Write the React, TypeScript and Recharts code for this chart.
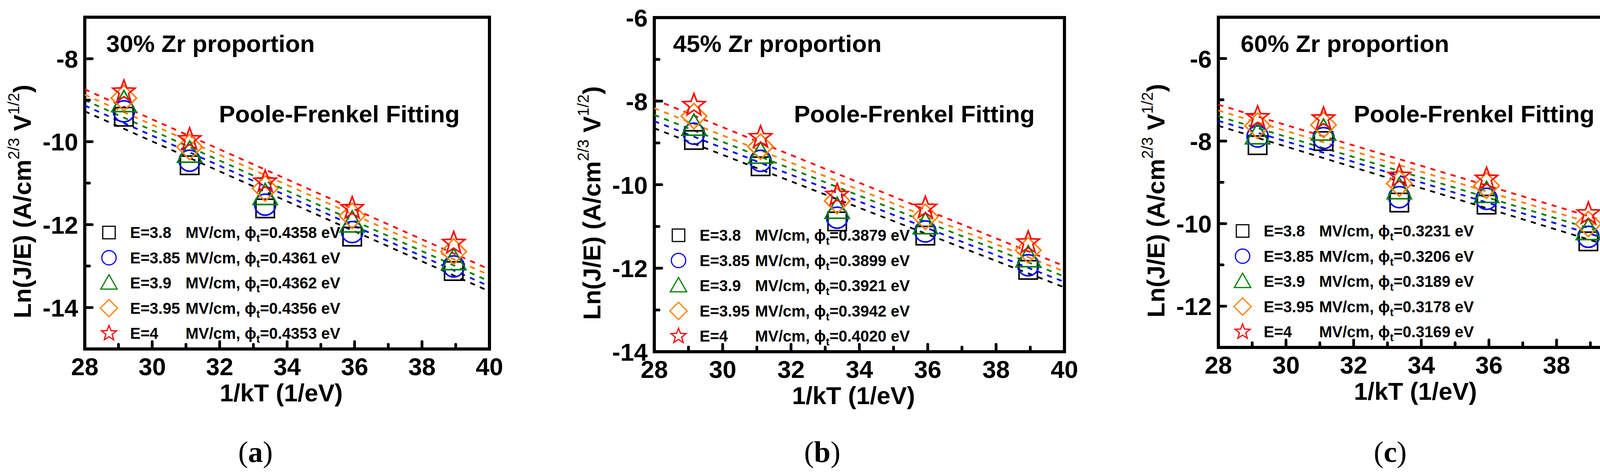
import React from 'react';
import { ScatterChart, Scatter, XAxis, YAxis, ReferenceArea } from 'recharts';

// 1/kT positions of the five measurement temperatures
const xValues = [29.16, 31.11, 33.35, 35.93, 38.94];
const fitX = [28, 40];
const xTicks = [28, 29, 30, 31, 32, 33, 34, 35, 36, 37, 38, 39, 40];

const fieldLabels = ['E=3.8', 'E=3.85', 'E=3.9', 'E=3.95', 'E=4'];
const seriesColors = ['#000000', '#0000ff', '#008000', '#ff8000', '#ff0000'];
const markerKinds = ['square', 'circle', 'triangle', 'diamond', 'star'];

// (a) 30% Zr
const zr30E380 = [-9.4, -10.57, -11.61, -12.29, -13.12];
const zr30E385 = [-9.27, -10.46, -11.52, -12.18, -13.01];
const zr30E390 = [-9.06, -10.28, -11.3, -11.96, -12.87];
const zr30E395 = [-8.95, -10.13, -11.13, -11.79, -12.65];
const zr30E400 = [-8.8, -9.95, -10.97, -11.61, -12.45];
const zr30FitStart = [-9.27, -9.13, -9.0, -8.87, -8.74];
const zr30FitEnd = [-13.61, -13.49, -13.37, -13.22, -13.08];
const zr30Phi = ['0.4358', '0.4361', '0.4362', '0.4356', '0.4353'];
const zr30YTicks = [-15, -14, -13, -12, -11, -10, -9, -8, -7];

// (b) 45% Zr
const zr45E380 = [-8.93, -9.56, -10.88, -11.22, -12.04];
const zr45E385 = [-8.78, -9.43, -10.79, -11.12, -11.93];
const zr45E390 = [-8.6, -9.27, -10.59, -10.96, -11.75];
const zr45E395 = [-8.36, -9.09, -10.39, -10.77, -11.57];
const zr45E400 = [-8.1, -8.87, -10.25, -10.56, -11.39];
const zr45FitStart = [-8.65, -8.48, -8.33, -8.17, -7.96];
const zr45FitEnd = [-12.46, -12.33, -12.2, -12.08, -11.95];
const zr45Phi = ['0.3879', '0.3899', '0.3921', '0.3942', '0.4020'];
const zr45YTicks = [-14, -13, -12, -11, -10, -9, -8, -7, -6];

// (c) 60% Zr
const zr60E380 = [-8.1, -8.0, -9.49, -9.54, -10.43];
const zr60E385 = [-7.89, -7.93, -9.36, -9.4, -10.32];
const zr60E390 = [-7.85, -7.76, -9.18, -9.27, -10.17];
const zr60E395 = [-7.63, -7.61, -9.03, -9.08, -10.01];
const zr60E400 = [-7.43, -7.46, -8.85, -8.92, -9.76];
const zr60FitStart = [-7.63, -7.51, -7.4, -7.26, -7.12];
const zr60FitEnd = [-10.65, -10.5, -10.37, -10.23, -10.08];
const zr60Phi = ['0.3231', '0.3206', '0.3189', '0.3178', '0.3169'];
const zr60YTicks = [-13, -12, -11, -10, -9, -8, -7, -6, -5];

const panels = [
  {
    title: '30% Zr proportion', caption: 'a',
    series: [zr30E380, zr30E385, zr30E390, zr30E395, zr30E400],
    fitStart: zr30FitStart, fitEnd: zr30FitEnd, phi: zr30Phi, yTicks: zr30YTicks,
    left: 0, width: 1400, plotLeft: 217, plotRight: 1253, plotTop: 44, plotBottom: 893,
    titleX: 272, captionX: 654,
  },
  {
    title: '45% Zr proportion', caption: 'b',
    series: [zr45E380, zr45E385, zr45E390, zr45E395, zr45E400],
    fitStart: zr45FitStart, fitEnd: zr45FitEnd, phi: zr45Phi, yTicks: zr45YTicks,
    left: 1400, width: 1400, plotLeft: 1675, plotRight: 2725, plotTop: 45, plotBottom: 900,
    titleX: 1723, captionX: 2105,
  },
  {
    title: '60% Zr proportion', caption: 'c',
    series: [zr60E380, zr60E385, zr60E390, zr60E395, zr60E400],
    fitStart: zr60FitStart, fitEnd: zr60FitEnd, phi: zr60Phi, yTicks: zr60YTicks,
    left: 2800, width: 1404, plotLeft: 3119, plotRight: 4158, plotTop: 44, plotBottom: 889,
    titleX: 3176, captionX: 3559,
  },
];

const W = 4204;
const H = 1218;
const Y_AXIS_W = 130;
const X_AXIS_H = 100;
const SANS = "'Liberation Sans', Arial, sans-serif";
const SERIF = "'Liberation Serif', 'Times New Roman', serif";

function MarkerShape({ kind, cx, cy, k, color }: any) {
  const sw = 4 * Math.max(k, 0.75);
  const common = { fill: 'none', stroke: color, strokeWidth: sw, strokeLinejoin: 'miter' as const };
  if (kind === 'square') {
    const h = 23.5 * k;
    return <rect x={cx - h} y={cy - h} width={2 * h} height={2 * h} {...common} />;
  }
  if (kind === 'circle') {
    return <circle cx={cx} cy={cy} r={27 * k} {...common} />;
  }
  if (kind === 'triangle') {
    const hw = 31 * k;
    return (
      <path d={`M${cx},${cy - 31 * k}L${cx + hw},${cy + 23 * k}L${cx - hw},${cy + 23 * k}Z`} {...common} />
    );
  }
  if (kind === 'diamond') {
    const h = 32.5 * k;
    return <path d={`M${cx},${cy - h}L${cx + h},${cy}L${cx},${cy + h}L${cx - h},${cy}Z`} {...common} />;
  }
  const R = 30 * k;
  const r = 12.5 * k;
  let d = '';
  for (let i = 0; i < 10; i++) {
    const a = -Math.PI / 2 + (i * Math.PI) / 5;
    const rr = i % 2 === 0 ? R : r;
    d += `${i === 0 ? 'M' : 'L'}${cx + rr * Math.cos(a)},${cy + rr * Math.sin(a)}`;
  }
  return <path d={d + 'Z'} {...common} />;
}

function XTick(props: any) {
  const { x, y, payload } = props;
  const v = payload.value;
  const major = v % 2 === 0;
  return (
    <g>
      <line x1={x} y1={y} x2={x} y2={y - (major ? 19 : 12)} stroke="#000" strokeWidth={7} strokeLinecap="round" />
      {major && (
        <text x={x} y={y + 67} textAnchor="middle" fontFamily={SANS} fontWeight="bold" fontSize={63} fill="#000">
          {v}
        </text>
      )}
    </g>
  );
}

function YTick(props: any) {
  const { x, y, payload } = props;
  const v = payload.value;
  const major = v % 2 === 0;
  return (
    <g>
      <line x1={x} y1={y} x2={x + (major ? 19 : 12)} y2={y} stroke="#000" strokeWidth={7} strokeLinecap="round" />
      {major && (
        <text x={x - 17} y={y + 23} textAnchor="end" fontFamily={SANS} fontWeight="bold" fontSize={63} fill="#000">
          {v}
        </text>
      )}
    </g>
  );
}

function Panel({ p }: any) {
  const yMin = p.yTicks[0];
  const yMax = p.yTicks[p.yTicks.length - 1];
  const margin = {
    top: p.plotTop,
    right: p.left + p.width - p.plotRight,
    bottom: H - p.plotBottom - X_AXIS_H,
    left: p.plotLeft - p.left - Y_AXIS_W,
  };
  return (
    <div style={{ position: 'absolute', left: p.left, top: 0 }}>
      <ScatterChart width={p.width} height={H} margin={margin}>
        <XAxis
          type="number" dataKey="x" domain={[28, 40]} ticks={xTicks} interval={0}
          tick={<XTick />} tickSize={0} tickMargin={0} axisLine={false} tickLine={false}
          height={X_AXIS_H} allowDataOverflow
        />
        <YAxis
          type="number" dataKey="y" domain={[yMin, yMax]} ticks={p.yTicks} interval={0}
          tick={<YTick />} tickSize={0} tickMargin={0} axisLine={false} tickLine={false}
          width={Y_AXIS_W} allowDataOverflow
        />
        <ReferenceArea x1={28} x2={40} y1={yMin} y2={yMax} fill="none" fillOpacity={0} stroke="#000" strokeWidth={8} />
        {p.fitStart.map((s: number, i: number) => (
          <Scatter
            key={`fit-${i}`}
            data={[{ x: fitX[0], y: s }, { x: fitX[1], y: p.fitEnd[i] }]}
            fill={seriesColors[i]}
            line={{ stroke: seriesColors[i], strokeWidth: 4.5, strokeDasharray: '13 14' }}
            shape={() => <g />}
            isAnimationActive={false}
          />
        ))}
        {p.series.map((vals: number[], i: number) => (
          <Scatter
            key={`pts-${i}`}
            data={xValues.map((x, j) => ({ x, y: vals[j] }))}
            fill={seriesColors[i]}
            shape={(sp: any) => <MarkerShape kind={markerKinds[i]} cx={sp.cx} cy={sp.cy} k={1} color={seriesColors[i]} />}
            isAnimationActive={false}
          />
        ))}
      </ScatterChart>
    </div>
  );
}

function Annotations({ p }: any) {
  const legendStep = 64.5;
  const legendLast = p.plotBottom - 40;
  const yTitleX = p.plotLeft - 138;
  const yTitleY = (p.plotTop + p.plotBottom) / 2 + 47;
  return (
    <g fontFamily={SANS} fontWeight="bold" fill="#000">
      <text x={p.titleX} y={133} fontSize={62}>{p.title}</text>
      <text x={p.plotRight - 76} y={313} fontSize={62} textAnchor="end">Poole-Frenkel Fitting</text>
      <text transform={`translate(${yTitleX},${yTitleY}) rotate(-90)`} textAnchor="middle" fontSize={63}>
        Ln(J/E) (A/cm
        <tspan dy={-30} fontSize={40} fontWeight="normal">2/3</tspan>
        <tspan dy={30}> V</tspan>
        <tspan dy={-30} fontSize={40} fontWeight="normal">1/2</tspan>
        <tspan dy={30}>)</tspan>
      </text>
      <text x={(p.plotLeft + p.plotRight) / 2 - 15} y={p.plotBottom + 134} fontSize={63} textAnchor="middle">
        1/kT (1/eV)
      </text>
      <text x={p.captionX} y={1182} fontSize={76} textAnchor="middle" fontFamily={SERIF} fontWeight="normal">
        (<tspan fontWeight="bold">{p.caption}</tspan>)
      </text>
      {fieldLabels.map((lab, i) => {
        const cy = legendLast - legendStep * (fieldLabels.length - 1 - i);
        return (
          <g key={lab}>
            <MarkerShape kind={markerKinds[i]} cx={p.plotLeft + 62} cy={cy} k={0.68} color={seriesColors[i]} />
            <text x={p.plotLeft + 116} y={cy + 14} fontSize={40}>{lab}</text>
            <text x={p.plotLeft + 258} y={cy + 14} fontSize={40}>
              MV/cm, {'\u03d5'}
              <tspan dy={10} fontSize={28}>t</tspan>
              <tspan dy={-10}>={p.phi[i]} eV</tspan>
            </text>
          </g>
        );
      })}
    </g>
  );
}

export default function App() {
  return (
    <div style={{ position: 'relative', width: W, height: H, background: '#fff', overflow: 'hidden' }}>
      <style>{'body{margin:0;background:#fff}'}</style>
      {panels.map((p) => (
        <Panel key={p.caption} p={p} />
      ))}
      <svg width={W} height={H} style={{ position: 'absolute', left: 0, top: 0, pointerEvents: 'none' }}>
        {panels.map((p) => (
          <Annotations key={p.caption} p={p} />
        ))}
      </svg>
    </div>
  );
}
